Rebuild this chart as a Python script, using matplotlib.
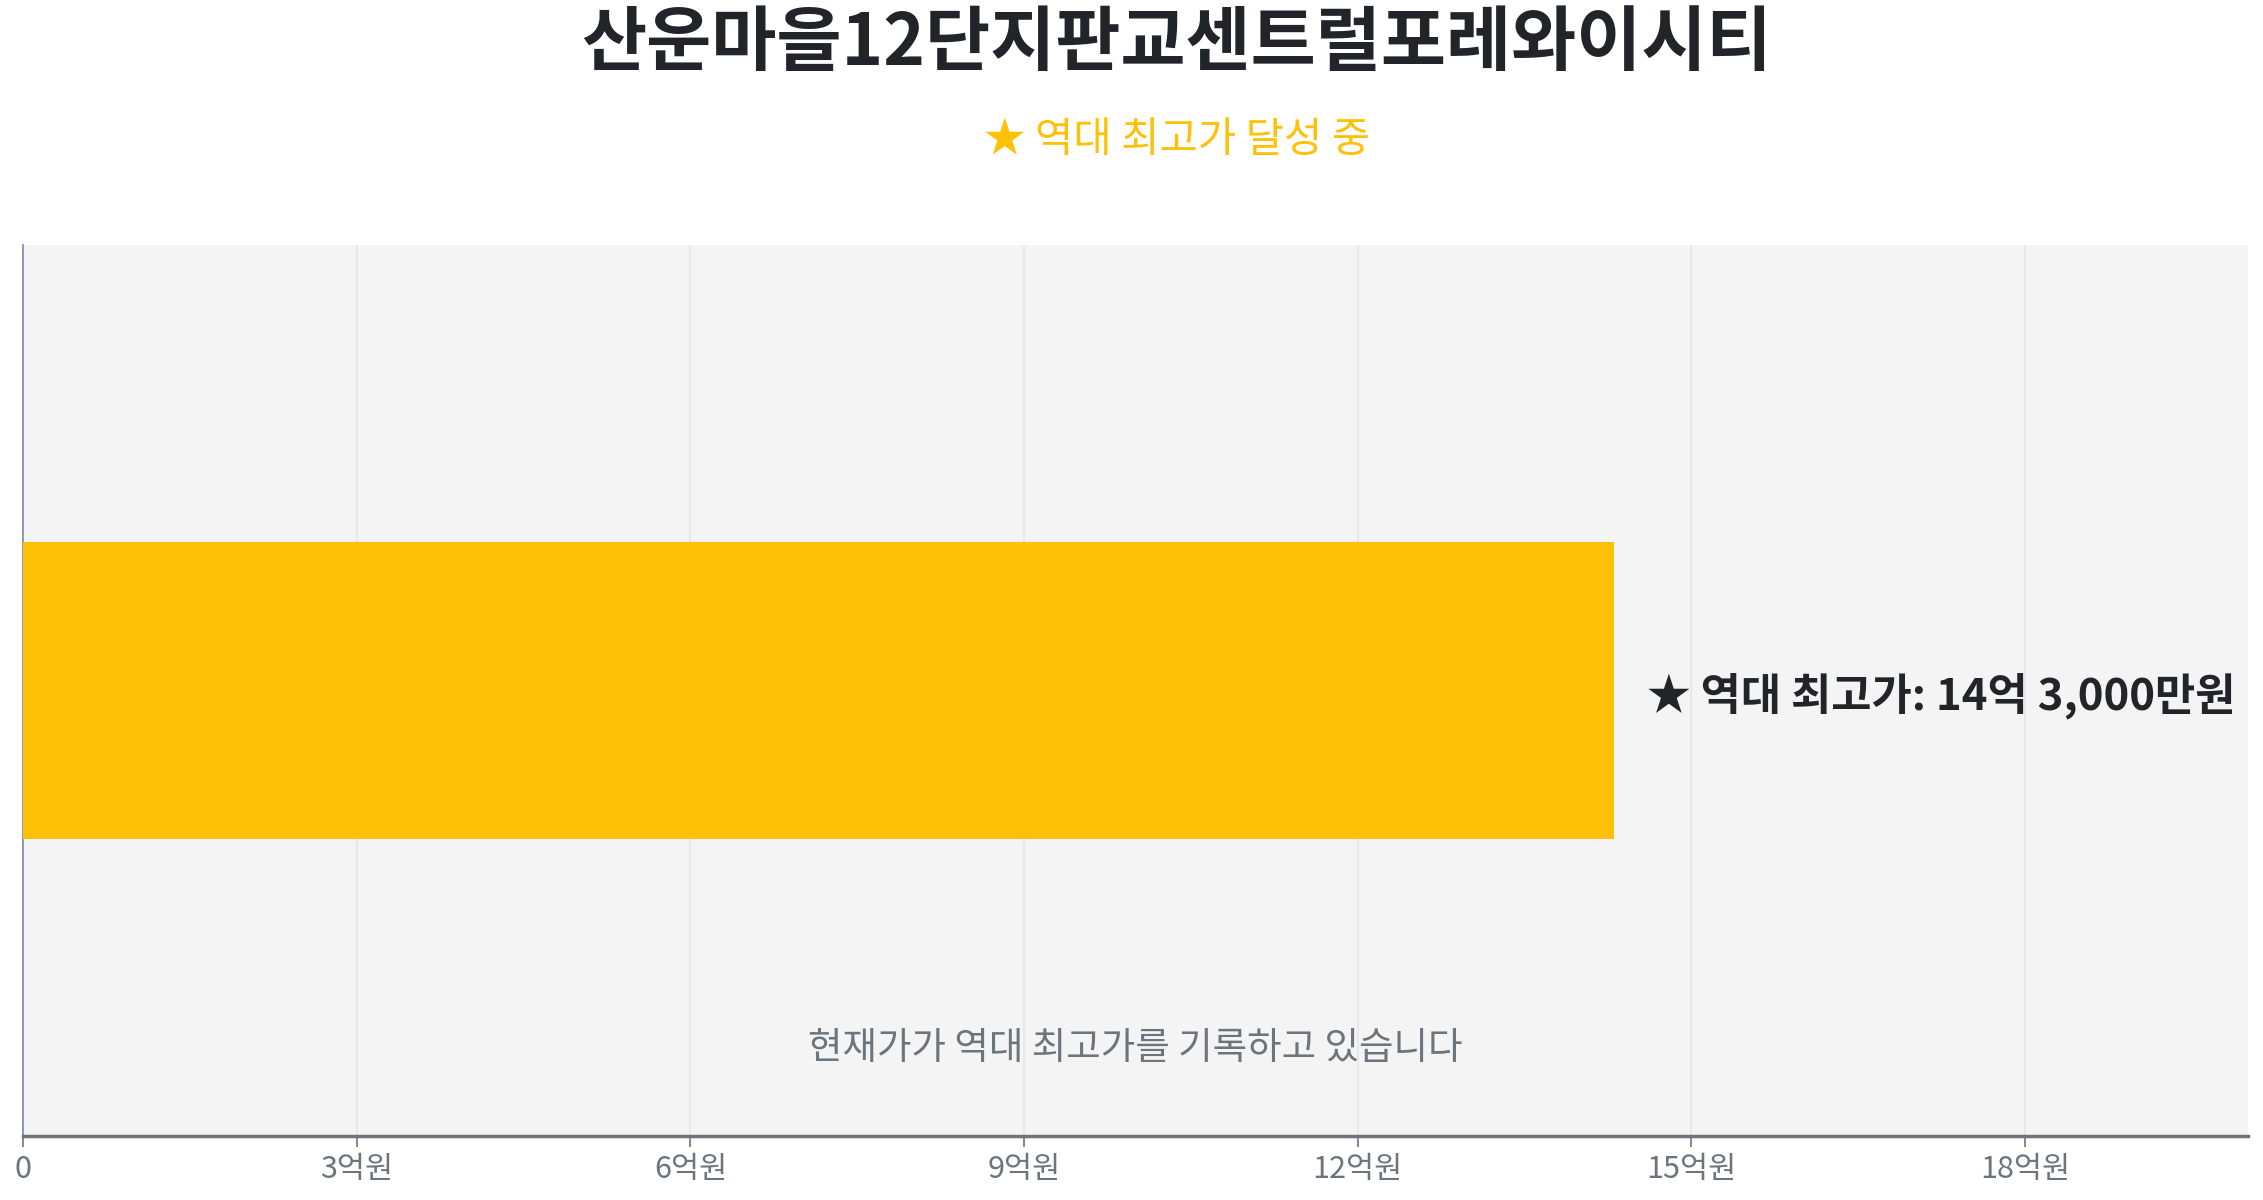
import matplotlib
matplotlib.use("Agg")
import matplotlib.pyplot as plt

plt.rcParams['font.family'] = ['Noto Sans CJK KR', 'DejaVu Sans']

title = "산운마을12단지판교센트럴포레와이시티"
subtitle = "★ 역대 최고가 달성 중"
note = "현재가가 역대 최고가를 기록하고 있습니다"

# 억원 단위
categories = ["역대 최고가"]
values = [14.3]
bar_label = "★ 역대 최고가: 14억 3,000만원"
xticks = [0, 3, 6, 9, 12, 15, 18]
xtick_labels = ["0", "3억원", "6억원", "9억원", "12억원", "15억원", "18억원"]

fig = plt.figure(figsize=(22.63, 12), dpi=100)
ax = fig.add_axes([0.0102, 0.053, 0.983, 0.743])
ax.set_facecolor("#f4f4f4")

ax.barh(range(len(categories)), values, height=1.0, color="#FFC107", zorder=3)
ax.set_ylim(-1.5, 1.5)
ax.set_xlim(0, 20)

for i, v in enumerate(values):
    ax.text(v + 0.3, i - 0.02, bar_label, ha="left", va="center", fontsize=31.5,
            fontweight="bold", color="#212529", zorder=4)

ax.text(0.5, 0.099, note, transform=ax.transAxes, ha="center", va="center",
        fontsize=27, color="#6c757d")

ax.set_xticks(xticks)
ax.set_xticklabels(xtick_labels, fontsize=22, color="#6c757d")
ax.set_yticks([])
ax.grid(axis="x", color="#e6e6e6", linewidth=1.2, zorder=0)
ax.tick_params(axis="x", length=8, width=1.2, color="#6c757d", pad=5)

for s in ["top", "right"]:
    ax.spines[s].set_visible(False)
ax.spines["bottom"].set_color("#6c757d")
ax.spines["bottom"].set_linewidth(2.5)
ax.spines["left"].set_color("#7d8aa0")
ax.spines["left"].set_linewidth(1.2)

fig.text(0.520, 0.963, title, ha="center", va="center", fontsize=51,
         fontweight="bold", color="#212529")
fig.text(0.520, 0.883, subtitle, ha="center", va="center", fontsize=30,
         color="#FFC107")

fig.savefig("out.png", dpi=100)
